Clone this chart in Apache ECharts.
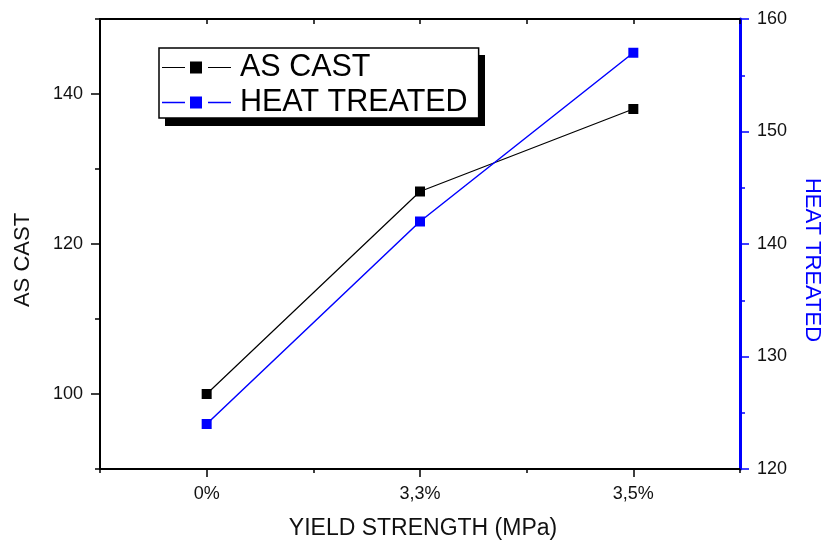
<!DOCTYPE html>
<html>
<head>
<meta charset="utf-8">
<script src="https://cdn.jsdelivr.net/npm/echarts@6/dist/echarts.min.js"></script>
<style>html,body{margin:0;padding:0;background:#fff;}#c{width:825px;height:542px;}</style>
</head>
<body>
<div id="c"></div>
<script>
var categories = ['0%', '3,3%', '3,5%'];
var asCast = [100, 127, 138];
var heatTreated = [124, 142, 157];
var leftTicks = [100, 120, 140];

var FONT = "'Liberation Sans', Arial, sans-serif";
var chart = echarts.init(document.getElementById('c'), null, {renderer: 'canvas'});

var iconBlack = 'path://M0,5.5h23v1h-23z M28,0h12v12h-12z M46,5.5h23v1h-23z';
var iconBlue = 'path://M0,5.25h23v1.5h-23z M28,0h12v12h-12z M46,5.25h23v1.5h-23z';

chart.setOption({
  animation: false,
  backgroundColor: '#fff',
  grid: {left: 100, right: 85, top: 19, bottom: 73, containLabel: false, outerBoundsMode: 'none'},
  graphic: [
    {type: 'rect', left: 165, top: 55, z: 0, shape: {width: 320, height: 71}, style: {fill: '#000'}}
  ],
  legend: {
    orient: 'vertical',
    left: 159, top: 48,
    z: 10,
    padding: [4, 11, 0, 3],
    itemGap: 4,
    itemWidth: 69, itemHeight: 12,
    backgroundColor: '#fff',
    borderColor: '#000', borderWidth: 1.5,
    textStyle: {fontFamily: FONT, fontSize: 30.5, color: '#000', lineHeight: 31, padding: [0, 0, 0, 4]},
    data: [{name: 'AS CAST', icon: iconBlack}, {name: 'HEAT TREATED', icon: iconBlue}]
  },
  xAxis: [
    {
      type: 'category', position: 'bottom', data: categories, boundaryGap: true,
      name: 'YIELD STRENGTH (MPa)', nameLocation: 'middle', nameGap: 48,
      nameTextStyle: {fontFamily: FONT, fontSize: 23, color: '#111', lineHeight: 23, padding: [0, 0, 0, 6]},
      axisLine: {onZero: false, lineStyle: {color: '#000', width: 2}},
      axisTick: {show: true, alignWithLabel: true, interval: 0, length: 8, lineStyle: {color: '#000', width: 1.5}},
      axisLabel: {fontFamily: FONT, fontSize: 18, color: '#111', margin: 16, interval: 0},
      splitLine: {show: false}
    },
    {
      type: 'value', position: 'bottom', min: -0.5, max: 2.5, interval: 1,
      axisLine: {show: false, onZero: false},
      axisTick: {show: true, length: 4, lineStyle: {color: '#000', width: 1.5}},
      axisLabel: {show: false}, splitLine: {show: false}
    },
    {
      type: 'value', position: 'top', min: -0.5, max: 2.5, interval: 0.5,
      axisLine: {show: true, onZero: false, lineStyle: {color: '#000', width: 2}},
      axisTick: {show: true, inside: true, length: 5, lineStyle: {color: '#000', width: 1.5}},
      axisLabel: {show: false}, splitLine: {show: false}
    }
  ],
  yAxis: [
    {
      type: 'value', position: 'left', min: 90, max: 150, interval: 10,
      name: 'AS CAST', nameLocation: 'middle', nameGap: 66,
      nameTextStyle: {fontFamily: FONT, fontSize: 22, color: '#111', lineHeight: 22, padding: [0, 32, 0, 0]},
      axisLine: {show: true, onZero: false, lineStyle: {color: '#000', width: 2}},
      axisTick: {show: true, length: 9, customValues: leftTicks, lineStyle: {color: '#000', width: 1.5}},
      axisLabel: {fontFamily: FONT, fontSize: 18, color: '#111', margin: 17, customValues: leftTicks},
      splitLine: {show: false}
    },
    {
      type: 'value', position: 'left', min: 90, max: 150, interval: 10,
      axisLine: {show: false, onZero: false},
      axisTick: {show: true, length: 5, lineStyle: {color: '#000', width: 1.5}},
      axisLabel: {show: false}, splitLine: {show: false}
    },
    {
      type: 'value', position: 'right', min: 120, max: 160, interval: 10,
      name: 'HEAT TREATED', nameLocation: 'middle', nameGap: 61, nameRotate: -90,
      nameTextStyle: {fontFamily: FONT, fontSize: 22, color: '#0000ff', lineHeight: 22, padding: [0, 0, 0, 32]},
      axisLine: {show: true, onZero: false, lineStyle: {color: '#0000ff', width: 3}},
      axisTick: {show: true, length: 9, lineStyle: {color: '#0000ff', width: 1.5}},
      minorTick: {show: true, splitNumber: 2, length: 5, lineStyle: {color: '#0000ff', width: 1.5}},
      axisLabel: {fontFamily: FONT, fontSize: 18, color: '#111', margin: 17},
      splitLine: {show: false}
    }
  ],
  series: [
    {
      name: 'AS CAST', type: 'line', xAxisIndex: 0, yAxisIndex: 0, data: asCast,
      symbol: 'rect', symbolSize: 10,
      lineStyle: {color: '#000', width: 1.2},
      itemStyle: {color: '#000'}
    },
    {
      name: 'HEAT TREATED', type: 'line', xAxisIndex: 0, yAxisIndex: 2, data: heatTreated,
      symbol: 'rect', symbolSize: 10,
      lineStyle: {color: '#0000ff', width: 1.5},
      itemStyle: {color: '#0000ff'}
    }
  ]
});
</script>
</body>
</html>
